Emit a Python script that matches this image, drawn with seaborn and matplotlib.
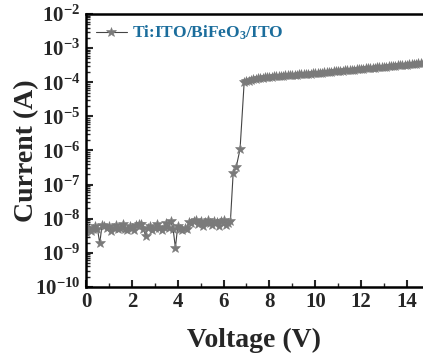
import numpy as np
import pandas as pd
import matplotlib
matplotlib.use("Agg")
import matplotlib.pyplot as plt
import seaborn as sns
from matplotlib.ticker import MultipleLocator, LogLocator, NullFormatter

# ---- data ----
v_low = np.round(np.arange(0.0, 6.31, 0.1), 2)
i_low = [4.0e-9, 5.5e-9, 4.5e-9, 5.0e-9, 6.0e-9, 5.0e-9, 1.9e-9, 6.5e-9, 6.0e-9, 5.5e-9,
         6.0e-9, 4.5e-9, 5.5e-9, 6.5e-9, 5.0e-9, 5.5e-9, 6.8e-9, 5.0e-9, 4.8e-9, 6.2e-9,
         5.2e-9, 4.6e-9, 6.5e-9, 7.2e-9, 6.8e-9, 5.0e-9, 3.2e-9, 5.5e-9, 6.0e-9, 4.8e-9,
         5.5e-9, 6.8e-9, 5.2e-9, 4.6e-9, 5.8e-9, 7.5e-9, 5.2e-9, 8.5e-9, 5.0e-9, 1.4e-9,
         6.0e-9, 5.0e-9, 4.6e-9, 5.5e-9, 5.0e-9, 8.0e-9, 7.5e-9, 8.5e-9, 9.0e-9, 7.0e-9,
         8.5e-9, 6.0e-9, 8.0e-9, 9.0e-9, 7.5e-9, 6.5e-9, 8.5e-9, 8.0e-9, 6.0e-9, 8.5e-9,
         9.0e-9, 6.5e-9, 7.5e-9, 8.5e-9]
v_mid = [6.42, 6.55, 6.72]
i_mid = [2.2e-7, 3.2e-7, 1.1e-6]
v_high = np.round(np.arange(6.9, 14.81, 0.1), 2)
i_high = [1.00e-4, 1.08e-4, 1.12e-4, 1.18e-4, 1.22e-4, 1.26e-4, 1.30e-4, 1.33e-4, 1.36e-4, 1.39e-4,
          1.42e-4, 1.44e-4, 1.46e-4, 1.48e-4, 1.50e-4, 1.52e-4, 1.54e-4, 1.56e-4, 1.58e-4, 1.60e-4,
          1.62e-4, 1.64e-4, 1.66e-4, 1.68e-4, 1.70e-4, 1.72e-4, 1.74e-4, 1.76e-4, 1.78e-4, 1.80e-4,
          1.82e-4, 1.84e-4,
          1.87e-4, 1.90e-4, 1.93e-4, 1.95e-4, 1.98e-4, 2.01e-4, 2.04e-4, 2.07e-4, 2.10e-4,
          2.13e-4, 2.16e-4, 2.19e-4, 2.22e-4, 2.25e-4, 2.29e-4, 2.32e-4, 2.36e-4, 2.39e-4, 2.43e-4,
          2.46e-4, 2.50e-4, 2.54e-4, 2.57e-4, 2.61e-4, 2.65e-4, 2.69e-4, 2.73e-4, 2.77e-4, 2.81e-4,
          2.85e-4, 2.89e-4, 2.94e-4, 2.98e-4, 3.03e-4, 3.07e-4, 3.12e-4, 3.16e-4, 3.21e-4, 3.26e-4,
          3.30e-4, 3.35e-4, 3.40e-4, 3.45e-4, 3.50e-4, 3.55e-4, 3.60e-4, 3.65e-4, 3.70e-4]
x_ticks = [0, 2, 4, 6, 8, 10, 12, 14]
series_label = "Ti:ITO/BiFeO$_3$/ITO"

df = pd.DataFrame({
    "Voltage": np.concatenate([v_low, v_mid, v_high]),
    "Current": np.concatenate([i_low, i_mid, i_high]),
})

sns.set_style("ticks")
plt.rcParams["font.family"] = ["Liberation Serif", "DejaVu Serif"]
plt.rcParams["font.weight"] = "bold"
plt.rcParams["mathtext.fontset"] = "custom"
plt.rcParams["mathtext.rm"] = "Liberation Serif:bold"
plt.rcParams["mathtext.it"] = "Liberation Serif:bold:italic"
plt.rcParams["mathtext.bf"] = "Liberation Serif:bold"

fig = plt.figure(figsize=(4.23, 3.6), dpi=100)
ax = fig.add_axes([0.2033, 0.203, 0.7967, 0.758])

sns.lineplot(data=df, x="Voltage", y="Current", ax=ax, color="#444444", lw=0.8,
             marker="*", markersize=7.5, markerfacecolor="#7a7a7a", markeredgecolor="#7a7a7a",
             markeredgewidth=0.4, label=series_label, sort=False)

ax.set_yscale("log")
ax.set_ylim(1e-10, 1e-2)
ax.set_xlim(0, 14.7)
ax.set_xticks(x_ticks)
ax.xaxis.set_minor_locator(MultipleLocator(1))
ax.yaxis.set_major_locator(LogLocator(base=10, numticks=20))
ax.yaxis.set_minor_locator(LogLocator(base=10, subs=np.arange(2, 10), numticks=20))
ax.yaxis.set_minor_formatter(NullFormatter())

for s in ["left", "bottom", "top"]:
    ax.spines[s].set_linewidth(1.8)
    ax.spines[s].set_color("black")
ax.spines["right"].set_visible(False)

ax.tick_params(axis="both", which="major", direction="in", length=5, width=1.5,
               labelsize=15, pad=4)
ax.tick_params(axis="both", which="minor", direction="in", length=3, width=1.0)
for lab in ax.get_xticklabels() + ax.get_yticklabels():
    lab.set_fontweight("bold")

ax.set_xlabel("Voltage (V)", fontsize=20, fontweight="bold", labelpad=11)
ax.set_ylabel("Current (A)", fontsize=20, fontweight="bold")
ax.yaxis.set_label_coords(-0.14, 0.5)

leg = ax.legend(loc="upper left", frameon=False, handlelength=1.8,
                handletextpad=0.3, borderaxespad=0.15, prop={"weight": "bold", "size": 12.5})
for t in leg.get_texts():
    t.set_color("#1b6d9c")

fig.savefig("out.png", dpi=100)
